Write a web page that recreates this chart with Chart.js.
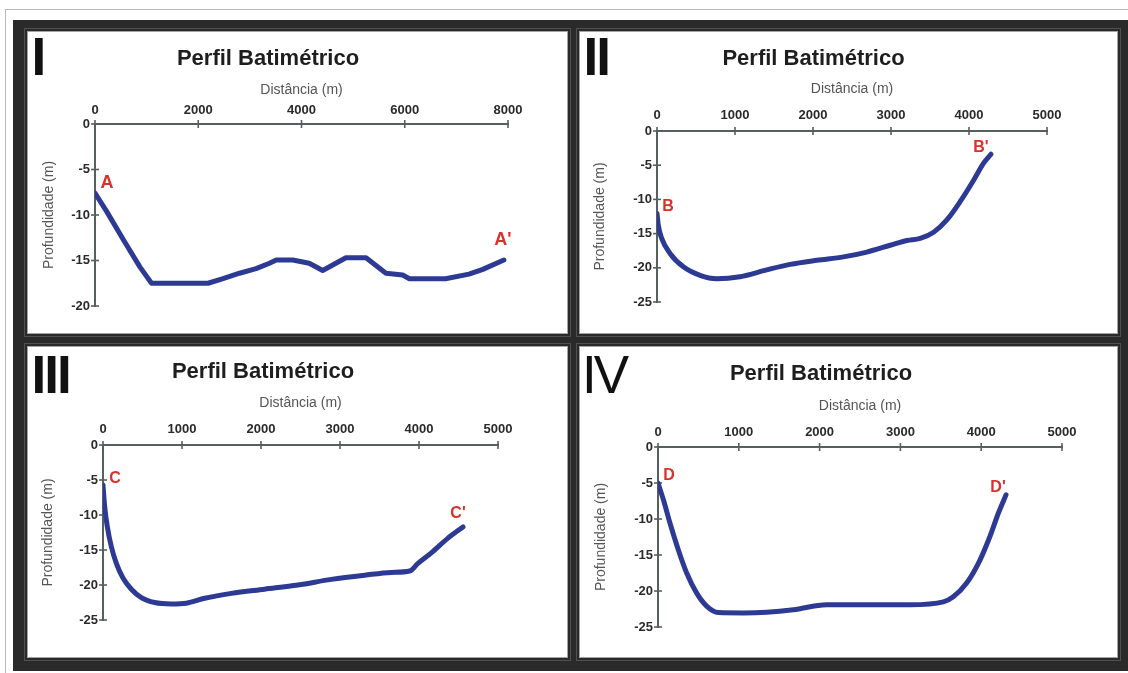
<!DOCTYPE html>
<html><head><meta charset="utf-8">
<script src="https://cdn.jsdelivr.net/npm/chart.js@4"></script>
<style>
html,body{margin:0;padding:0;background:#fff;}
body{width:1128px;height:673px;position:relative;overflow:hidden;font-family:"Liberation Sans",Arial,sans-serif;}
.gl{position:absolute;background:#b8b8b8;}
#frame{position:absolute;left:13px;top:20px;width:1115px;height:651px;background:#2a2a2a;}
.panel{position:absolute;background:#fff;box-shadow:0 0 0 1px #a4a4a4,0 0 0 3px #2a2a2a,0 0 0 4px #505050;}
.panel canvas{position:absolute;left:0;top:0;}
</style></head><body>
<div class="gl" style="left:5px;top:9px;width:1123px;height:1px"></div>
<div class="gl" style="left:5px;top:9px;width:1px;height:664px"></div>
<div id="frame"></div>
<div class="panel" style="left:28px;top:32px;width:539px;height:301px"><canvas id="c1" width="539" height="301"></canvas></div>
<div class="panel" style="left:580px;top:32px;width:537px;height:301px"><canvas id="c2" width="537" height="301"></canvas></div>
<div class="panel" style="left:28px;top:347px;width:539px;height:310px"><canvas id="c3" width="539" height="310"></canvas></div>
<div class="panel" style="left:580px;top:347px;width:537px;height:310px"><canvas id="c4" width="537" height="310"></canvas></div>
<script>
// ---------- data ----------
const chartTitle = 'Perfil Batimétrico';
const xAxisTitle = 'Distância (m)';
const yAxisTitle = 'Profundidade (m)';
const romanNumerals = ['I', 'II', 'III', 'IV'];
const endLabelsI = ['A', "A'"];
const endLabelsII = ['B', "B'"];
const endLabelsIII = ['C', "C'"];
const endLabelsIV = ['D', "D'"];
const xMaxes = [8000, 5000, 5000, 5000];
const xSteps = [2000, 1000, 1000, 1000];
const yMins = [-20, -25, -25, -25];
const yStep = 5;

const distI  = [0, 225, 547, 869, 1095, 1600, 2190, 2480, 2800, 3120, 3380, 3510, 3830, 4150, 4410, 4860, 5250, 5635, 5960, 6090, 6790, 7245, 7500, 7920];
const depthI = [-7.6, -9.6, -12.7, -15.7, -17.5, -17.5, -17.5, -17.0, -16.4, -15.9, -15.3, -14.95, -14.95, -15.3, -16.1, -14.7, -14.7, -16.4, -16.6, -17.0, -17.0, -16.5, -16.0, -14.95];

const distII  = [0, 17, 60, 167, 338, 552, 766, 1065, 1407, 1707, 2049, 2391, 2690, 2990, 3204, 3375, 3546, 3716, 3888, 4059, 4187, 4281];
const depthII = [-12.05, -13.8, -15.7, -17.9, -19.85, -21.1, -21.6, -21.3, -20.3, -19.5, -18.9, -18.4, -17.7, -16.7, -16.0, -15.7, -14.8, -13.0, -10.3, -7.2, -4.7, -3.4];

const distIII  = [0, 21, 55, 105, 169, 253, 359, 485, 654, 865, 1055, 1287, 1624, 2046, 2468, 2890, 3312, 3650, 3882, 3987, 4156, 4367, 4557];
const depthIII = [-5.7, -8.8, -11.7, -14.5, -16.9, -19.0, -20.6, -21.8, -22.5, -22.7, -22.6, -21.9, -21.2, -20.6, -20.0, -19.2, -18.6, -18.2, -18.0, -16.9, -15.4, -13.3, -11.7];

const distIV  = [0, 66, 149, 252, 355, 479, 602, 747, 1056, 1345, 1675, 2087, 2582, 3118, 3531, 3655, 3820, 3985, 4109, 4212, 4307];
const depthIV = [-5.0, -7.3, -10.6, -14.3, -17.5, -20.3, -22.1, -23.0, -23.05, -22.95, -22.6, -21.9, -21.9, -21.9, -21.5, -20.8, -18.9, -15.7, -12.4, -9.2, -6.65];

// ---------- styling / drawing ----------
const FONT = '"Liberation Sans", Arial, Helvetica, sans-serif';
Chart.defaults.font.family = FONT;
const AXIS_COLOR = '#56605f';
const LINE_COLOR = '#2d3a93';
const LABEL_COLOR = '#d8322c';

const decor = {
  id: 'decor',
  beforeDatasetsDraw(chart) {
    const ctx = chart.ctx, a = chart.chartArea;
    ctx.save();
    ctx.strokeStyle = AXIS_COLOR; ctx.lineWidth = 1.6;
    chart.scales.x.ticks.forEach(t => {
      const px = chart.scales.x.getPixelForValue(t.value);
      ctx.beginPath(); ctx.moveTo(px, a.top - 4); ctx.lineTo(px, a.top + 4); ctx.stroke();
    });
    chart.scales.y.ticks.forEach(t => {
      const py = chart.scales.y.getPixelForValue(t.value);
      ctx.beginPath(); ctx.moveTo(a.left - 4, py); ctx.lineTo(a.left + 4, py); ctx.stroke();
    });
    ctx.restore();
  },
  afterDatasetsDraw(chart, args, o) {
    const ctx = chart.ctx;
    ctx.save();
    ctx.font = o.romanWeight + ' 53px ' + FONT;
    ctx.fillStyle = '#111'; ctx.textAlign = 'left'; ctx.textBaseline = 'alphabetic';
    if ('letterSpacing' in ctx) ctx.letterSpacing = o.romanSpacing;
    ctx.fillText(o.roman, o.romanX, o.romanY);
    if ('letterSpacing' in ctx) ctx.letterSpacing = '0px';
    const d = chart.data.datasets[0].data;
    const xs = chart.scales.x, ys = chart.scales.y;
    const first = d[0], last = d[d.length - 1];
    ctx.font = 'bold ' + o.labelSize + 'px ' + FONT;
    ctx.fillStyle = LABEL_COLOR; ctx.textAlign = 'center'; ctx.textBaseline = 'middle';
    ctx.fillText(o.labels[0], xs.getPixelForValue(first.x) + o.startOff[0], ys.getPixelForValue(first.y) + o.startOff[1]);
    ctx.fillText(o.labels[1], xs.getPixelForValue(last.x) + o.endOff[0], ys.getPixelForValue(last.y) + o.endOff[1]);
    ctx.restore();
  }
};
Chart.register(decor);

function makeChart(id, g, dist, depth, xMax, xStep, yMin, smooth, deco) {
  const titleBottom = g.titleC + 13.2;
  new Chart(document.getElementById(id), {
    type: 'line',
    data: { datasets: [{
      data: dist.map((x, i) => ({ x: x, y: depth[i] })),
      borderColor: LINE_COLOR, borderWidth: 5, pointRadius: 0, fill: false,
      tension: smooth ? 0.4 : 0, cubicInterpolationMode: smooth ? 'monotone' : 'default',
      borderCapStyle: 'round', borderJoinStyle: 'round'
    }]},
    options: {
      responsive: false, animation: false, devicePixelRatio: 1,
      layout: { padding: { left: 0, top: 0, right: g.W - g.R, bottom: g.H - g.B } },
      plugins: {
        legend: { display: false }, tooltip: { enabled: false },
        title: { display: true, text: chartTitle, color: '#1e1e1e',
          font: { size: 22, weight: 'bold', lineHeight: 1.2 },
          padding: { top: g.titleC - 13.2, bottom: 0 } },
        decor: deco
      },
      scales: {
        x: {
          type: 'linear', position: 'top', min: 0, max: xMax,
          afterFit(s) { s.height = g.T - titleBottom; },
          grid: { display: false, drawTicks: false },
          border: { display: true, color: AXIS_COLOR, width: 2 },
          ticks: { stepSize: xStep, autoSkip: false, maxRotation: 0, color: '#2a2a2a',
            font: { size: 13, weight: 'bold', lineHeight: 1.2 },
            padding: g.T - g.xTickC - 7.8, callback: v => String(v) },
          title: { display: true, text: xAxisTitle, color: '#555',
            font: { size: 14, lineHeight: 1.2 },
            padding: { top: g.xTitleC - titleBottom - 8.4, bottom: 0 } }
        },
        y: {
          type: 'linear', position: 'left', min: yMin, max: 0,
          afterFit(s) { s.width = g.L; },
          grid: { display: false, drawTicks: false },
          border: { display: true, color: AXIS_COLOR, width: 2 },
          ticks: { stepSize: yStep, color: '#2a2a2a',
            font: { size: 13, weight: 'bold', lineHeight: 1.2 },
            padding: 5, callback: v => String(v) },
          title: { display: true, text: yAxisTitle, color: '#555',
            font: { size: 14, lineHeight: 1.2 },
            padding: { top: g.yTitleC - 8.4, bottom: 0 } }
        }
      }
    }
  });
}

makeChart('c1', { W: 539, H: 301, L: 67, T: 92, R: 480, B: 274, titleC: 27, xTitleC: 58, xTickC: 78, yTitleC: 21 },
  distI, depthI, xMaxes[0], xSteps[0], yMins[0], false,
  { roman: romanNumerals[0], romanWeight: 'bold', romanX: 3.6, romanY: 43, romanSpacing: '0px',
    labels: endLabelsI, labelSize: 18, startOff: [12, -10], endOff: [-1, -20] });

makeChart('c2', { W: 537, H: 301, L: 77, T: 99, R: 467, B: 270, titleC: 27, xTitleC: 57, xTickC: 83, yTitleC: 20 },
  distII, depthII, xMaxes[1], xSteps[1], yMins[1], true,
  { roman: romanNumerals[1], romanWeight: 'bold', romanX: 3.6, romanY: 43, romanSpacing: '-2px',
    labels: endLabelsII, labelSize: 16, startOff: [11, -7], endOff: [-10, -7] });

makeChart('c3', { W: 539, H: 310, L: 75, T: 98, R: 470, B: 273, titleC: 25, xTitleC: 56, xTickC: 82, yTitleC: 20 },
  distIII, depthIII, xMaxes[2], xSteps[2], yMins[2], true,
  { roman: romanNumerals[2], romanWeight: 'bold', romanX: 3.6, romanY: 46, romanSpacing: '-2px',
    labels: endLabelsIII, labelSize: 16, startOff: [12, -6], endOff: [-5, -13] });

makeChart('c4', { W: 537, H: 310, L: 78, T: 100, R: 482, B: 280, titleC: 27, xTitleC: 59, xTickC: 85, yTitleC: 21 },
  distIV, depthIV, xMaxes[3], xSteps[3], yMins[3], true,
  { roman: romanNumerals[3], romanWeight: 'normal', romanX: 2, romanY: 46, romanSpacing: '-3px',
    labels: endLabelsIV, labelSize: 16, startOff: [11, -7], endOff: [-8, -7] });
</script>
</body></html>
